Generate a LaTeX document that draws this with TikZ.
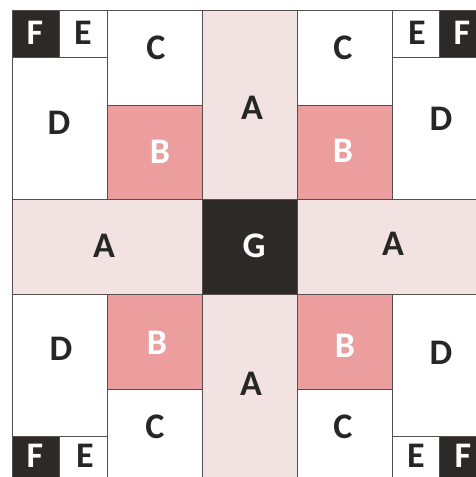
\documentclass[tikz,border=0pt]{standalone}
\usepackage{fontspec}
\setmainfont{Carlito}
\definecolor{pinkA}{RGB}{243,226,226}
\definecolor{pinkB}{RGB}{236,158,158}
\definecolor{darkF}{RGB}{45,41,41}
\definecolor{edge}{RGB}{85,80,80}
\tikzset{
  patch/.style={draw=edge, line width=0.9pt},
  lbl/.style={font=\bfseries\fontsize{36}{36}\selectfont, inner sep=0pt, anchor=center},
  darklbl/.style={lbl, text=black!85},
  lightlbl/.style={lbl, text=white},
}
\begin{document}
\begin{tikzpicture}[x=1pt,y=-1pt]
\useasboundingbox (0,0) rectangle (476,477);
\fill[white] (0,0) rectangle (476,477);
\begin{scope}
\clip (0,0) rectangle (476,477);
\begin{scope}[shift={(12,10.5)}, x=47.5pt, y=-47.35pt]
  % A strips
  \draw[patch, fill=pinkA] (4,0) rectangle (6,4);
  \draw[patch, fill=pinkA] (4,6) rectangle (6,10);
  \draw[patch, fill=pinkA] (0,4) rectangle (4,6);
  \draw[patch, fill=pinkA] (6,4) rectangle (10,6);
  % G
  \draw[patch, fill=darkF] (4,4) rectangle (6,6);
  % B
  \draw[patch, fill=pinkB] (2,2) rectangle (4,4);
  \draw[patch, fill=pinkB] (6,2) rectangle (8,4);
  \draw[patch, fill=pinkB] (2,6) rectangle (4,8);
  \draw[patch, fill=pinkB] (6,6) rectangle (8,8);
  % C
  \draw[patch, fill=white] (2,0) rectangle (4,2);
  \draw[patch, fill=white] (6,0) rectangle (8,2);
  \draw[patch, fill=white] (2,8) rectangle (4,10);
  \draw[patch, fill=white] (6,8) rectangle (8,10);
  % D
  \draw[patch, fill=white] (0,1) rectangle (2,4);
  \draw[patch, fill=white] (8,1) rectangle (10,4);
  \draw[patch, fill=white] (0,6) rectangle (2,9);
  \draw[patch, fill=white] (8,6) rectangle (10,9);
  % E
  \draw[patch, fill=white] (1,0) rectangle (2,1);
  \draw[patch, fill=white] (8,0) rectangle (9,1);
  \draw[patch, fill=white] (1,9) rectangle (2,10);
  \draw[patch, fill=white] (8,9) rectangle (9,10);
  % F
  \draw[patch, fill=darkF] (0,0) rectangle (1,1);
  \draw[patch, fill=darkF] (9,0) rectangle (10,1);
  \draw[patch, fill=darkF] (0,9) rectangle (1,10);
  \draw[patch, fill=darkF] (9,9) rectangle (10,10);
\end{scope}
\end{scope}
% labels
\node[lightlbl] (f1) at (35,33) {F};
\node[darklbl]  (e1) at (83,33) {E};
\node[darklbl]  (c1) at (156,48) {C};
\node[darklbl]  (d1) at (59,123) {D};
\node[lightlbl] (b1) at (160,152) {B};
\node[darklbl]  (a1) at (252,108) {A};
\node[darklbl]  (c2) at (343,48) {C};
\node[darklbl]  (e2) at (417,33) {E};
\node[lightlbl] (f2) at (462,33) {F};
\node[darklbl]  (d2) at (441,119) {D};
\node[lightlbl] (b2) at (343,151) {B};
\node[darklbl]  (a2) at (104,246) {A};
\node[lightlbl] (g)  at (254,246) {G};
\node[darklbl]  (a3) at (393,244) {A};
\node[darklbl]  (d3) at (61,349) {D};
\node[lightlbl] (b3) at (157,343) {B};
\node[darklbl]  (c3) at (155,427) {C};
\node[lightlbl] (f3) at (35,456) {F};
\node[darklbl]  (e3) at (85,456) {E};
\node[lightlbl] (b4) at (345,346) {B};
\node[darklbl]  (d4) at (441,353) {D};
\node[darklbl]  (a4) at (251,384) {A};
\node[darklbl]  (c4) at (343,427) {C};
\node[darklbl]  (e4) at (416,456) {E};
\node[lightlbl] (f4) at (463,456) {F};
\end{tikzpicture}
\end{document}
